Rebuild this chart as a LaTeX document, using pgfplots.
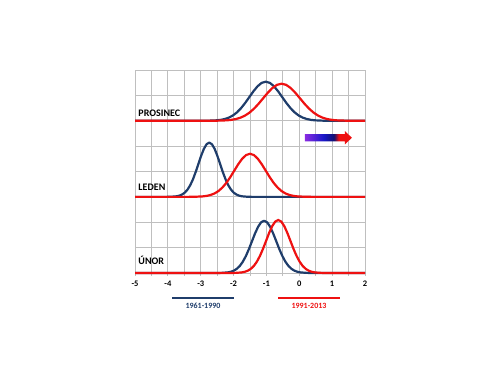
\documentclass[border=0pt]{standalone}
\usepackage{fontspec}
\setmainfont{Carlito}
\usepackage{pgfplots}
\pgfplotsset{compat=1.18}
\definecolor{cblue}{HTML}{1F3D6B}
\definecolor{cred}{HTML}{EE1111}
\definecolor{cgrid}{HTML}{BFBFBF}
\definecolor{cpurp}{HTML}{8A2BE2}
\definecolor{cbl}{HTML}{1818C8}
\definecolor{cnavy}{HTML}{101070}
\pgfdeclarehorizontalshading{arrowshade}{100bp}{color(0bp)=(cpurp); color(25bp)=(cpurp); color(45bp)=(cbl); color(56bp)=(cnavy); color(61bp)=(cred); color(100bp)=(cred)}
\begin{document}
\begin{tikzpicture}[x=1pt,y=1pt]
\useasboundingbox (0,0) rectangle (500,375);
\begin{axis}[
  at={(135pt,102pt)}, anchor=south west,
  width=230pt, height=203pt, scale only axis,
  xmin=-5, xmax=2, ymin=0, ymax=8,
  xtick={-5,...,2}, minor xtick={-4.5,-3.5,...,1.5},
  ytick={0,...,8}, yticklabels={},
  grid=both,
  major grid style={cgrid, line width=0.8pt},
  minor grid style={cgrid, line width=0.8pt},
  axis line style={cgrid, line width=0.8pt},
  xtick pos=left, tick align=outside,
  major tick length=3pt, minor tick length=3pt,
  xtick style={cgrid, line width=0.8pt}, ytick style={draw=none},
  xticklabels={-5,-4,-3,-2,-1,0,1,2},
  xticklabel style={font=\bfseries\fontsize{8.5}{9}\selectfont, text=black, yshift=-1.5pt},
  clip=false,
  every axis plot/.append style={line width=2.2pt, line join=round, no markers},
]
% PROSINEC (baseline 6)
\addplot[cblue] coordinates {(-5,6) (-3.02,6) (-2.77,6.003) (-2.52,6.017) (-2.395,6.035) (-2.27,6.068) (-2.145,6.123) (-2.02,6.208) (-1.895,6.333) (-1.77,6.500) (-1.645,6.705) (-1.52,6.934) (-1.395,7.162) (-1.27,7.359) (-1.145,7.493) (-1.02,7.540) (-0.895,7.493) (-0.77,7.359) (-0.645,7.162) (-0.52,6.934) (-0.395,6.705) (-0.27,6.500) (-0.145,6.333) (-0.02,6.208) (0.105,6.123) (0.23,6.068) (0.355,6.035) (0.48,6.017) (0.73,6.003) (0.98,6) (2,6)};
\addplot[cred] coordinates {(-5,6) (-2.78,6) (-2.50,6.003) (-2.22,6.016) (-2.08,6.033) (-1.94,6.064) (-1.80,6.116) (-1.66,6.198) (-1.52,6.316) (-1.38,6.474) (-1.24,6.668) (-1.10,6.886) (-0.96,7.102) (-0.82,7.289) (-0.68,7.415) (-0.54,7.460) (-0.40,7.415) (-0.26,7.289) (-0.12,7.102) (0.02,6.886) (0.16,6.668) (0.30,6.474) (0.44,6.316) (0.58,6.198) (0.72,6.116) (0.86,6.064) (1.00,6.033) (1.14,6.016) (1.42,6.003) (1.70,6) (2,6)};
% LEDEN (baseline 3)
\addplot[cblue] coordinates {(-5,3) (-4.06,3) (-3.895,3.005) (-3.73,3.024) (-3.648,3.049) (-3.565,3.094) (-3.483,3.170) (-3.40,3.290) (-3.318,3.463) (-3.235,3.695) (-3.153,3.980) (-3.07,4.298) (-2.988,4.615) (-2.905,4.889) (-2.823,5.074) (-2.74,5.140) (-2.658,5.074) (-2.575,4.889) (-2.493,4.615) (-2.41,4.298) (-2.328,3.980) (-2.245,3.695) (-2.163,3.463) (-2.08,3.290) (-1.998,3.170) (-1.915,3.094) (-1.833,3.049) (-1.75,3.024) (-1.585,3.005) (-1.42,3) (2,3)};
\addplot[cred] coordinates {(-5,3) (-3.42,3) (-3.18,3.004) (-2.94,3.019) (-2.82,3.039) (-2.70,3.075) (-2.58,3.135) (-2.46,3.230) (-2.34,3.368) (-2.22,3.552) (-2.10,3.778) (-1.98,4.031) (-1.86,4.283) (-1.74,4.500) (-1.62,4.648) (-1.5,4.700) (-1.38,4.648) (-1.26,4.500) (-1.14,4.283) (-1.02,4.031) (-0.90,3.778) (-0.78,3.552) (-0.66,3.368) (-0.54,3.230) (-0.42,3.135) (-0.30,3.075) (-0.18,3.039) (-0.06,3.019) (0.18,3.004) (0.42,3) (2,3)};
% UNOR (baseline 0)
\addplot[cblue] coordinates {(-5,0) (-2.55,0) (-2.365,0.005) (-2.18,0.023) (-2.088,0.047) (-1.995,0.090) (-1.903,0.164) (-1.81,0.279) (-1.718,0.446) (-1.625,0.669) (-1.533,0.943) (-1.44,1.249) (-1.348,1.555) (-1.255,1.818) (-1.163,1.997) (-1.07,2.06) (-0.978,1.997) (-0.885,1.818) (-0.793,1.555) (-0.70,1.249) (-0.608,0.943) (-0.515,0.669) (-0.423,0.446) (-0.33,0.279) (-0.238,0.164) (-0.145,0.090) (-0.053,0.047) (0.04,0.023) (0.225,0.005) (0.41,0) (2,0)};
\addplot[cred] coordinates {(-5,0) (-2.12,0) (-1.935,0.005) (-1.75,0.023) (-1.658,0.048) (-1.565,0.092) (-1.473,0.166) (-1.38,0.283) (-1.288,0.452) (-1.195,0.679) (-1.103,0.957) (-1.01,1.268) (-0.918,1.578) (-0.825,1.844) (-0.733,2.026) (-0.64,2.09) (-0.548,2.026) (-0.455,1.844) (-0.363,1.578) (-0.27,1.268) (-0.178,0.957) (-0.085,0.679) (0.008,0.452) (0.10,0.283) (0.193,0.166) (0.285,0.092) (0.378,0.048) (0.47,0.023) (0.655,0.005) (0.84,0) (2,0)};
% month labels
\node[anchor=base west, inner sep=0, font=\bfseries\fontsize{10}{11}\selectfont] at (axis cs:-4.9,6.17) {PROSINEC};
\node[anchor=base west, inner sep=0, font=\bfseries\fontsize{10}{11}\selectfont] at (axis cs:-4.9,3.25) {LEDEN};
\node[anchor=base west, inner sep=0, font=\bfseries\fontsize{10}{11}\selectfont] at (axis cs:-4.9,0.33) {ÚNOR};
% arrow
\shade[shading=arrowshade] (axis cs:0.17,5.19) -- (axis cs:1.39,5.19) -- (axis cs:1.39,5.07) -- (axis cs:1.60,5.33) -- (axis cs:1.39,5.59) -- (axis cs:1.39,5.47) -- (axis cs:0.17,5.47) -- cycle;
\end{axis}
% legend
\draw[cblue, line width=2.5pt] (172,77) -- (234,77);
\node[text=cblue, font=\bfseries\fontsize{8}{9}\selectfont] at (203,69) {1961-1990};
\draw[cred, line width=2.5pt] (278,77) -- (340,77);
\node[text=cred, font=\bfseries\fontsize{8}{9}\selectfont] at (309,69) {1991-2013};
\end{tikzpicture}
\end{document}
